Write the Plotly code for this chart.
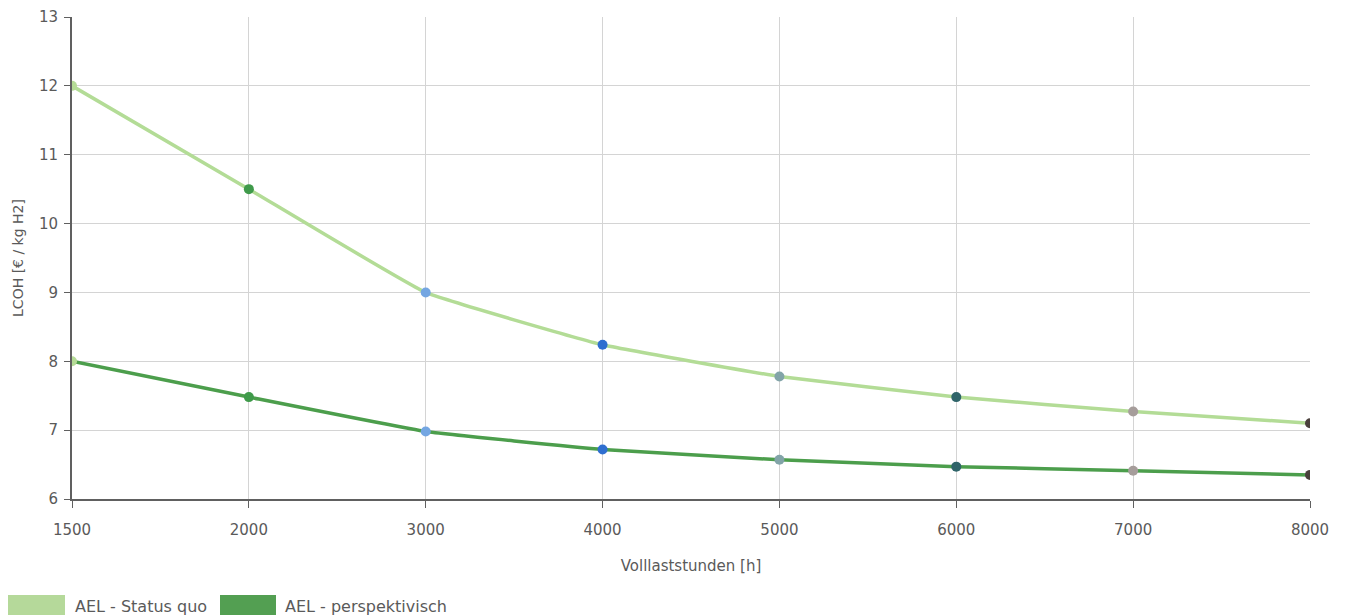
import plotly.graph_objects as go

hours = ["1500", "2000", "3000", "4000", "5000", "6000", "7000", "8000"]
status_quo = [12.0, 10.5, 9.0, 8.24, 7.78, 7.48, 7.27, 7.10]
perspektivisch = [8.0, 7.48, 6.98, 6.72, 6.57, 6.47, 6.41, 6.35]
point_colors = ["#b5db96", "#3f9a4a", "#74a6e2", "#2f6fd0", "#82a4a8", "#2f6469", "#a69d9b", "#4a403c"]

series_names = ["AEL - Status quo", "AEL - perspektivisch"]
series_colors = ["#b3dc96", "#4c9e4c"]
legend_colors = ["#b5d99a", "#539f52"]

FONT = "DejaVu Sans"
GRAY = "#5a5a5a"

W, H = 1347, 615
ML, MR, MT, MB = 64, 45, 9, 124

fig = go.Figure()
for name, vals, col in zip(series_names, [status_quo, perspektivisch], series_colors):
    fig.add_trace(go.Scatter(
        x=hours, y=vals, name=name, mode="lines+markers",
        line=dict(color=col, width=3.5, shape="spline", smoothing=0.3),
        marker=dict(color=point_colors, size=10),
        showlegend=False, cliponaxis=True,
    ))

fig.update_layout(
    width=W, height=H,
    margin=dict(l=ML, r=MR, t=MT, b=MB, autoexpand=False),
    paper_bgcolor="white", plot_bgcolor="white",
    font=dict(family=FONT, size=15, color=GRAY),
    xaxis=dict(
        type="category", range=[0, 7], automargin=False,
        showgrid=True, gridcolor="#d4d4d4", gridwidth=1,
        showline=True, linecolor="#606060", linewidth=2,
        ticks="outside", ticklen=7, tickcolor="#606060",
        ticklabelstandoff=9,
        title=dict(text="Volllaststunden [h]", standoff=22, font=dict(size=15, color=GRAY)),
        tickfont=dict(size=15, color=GRAY),
        zeroline=False,
    ),
    yaxis=dict(
        range=[6, 13], dtick=1, automargin=False,
        showgrid=True, gridcolor="#d4d4d4", gridwidth=1,
        showline=True, linecolor="#606060", linewidth=2,
        ticks="outside", ticklen=6, tickcolor="#606060",
        ticklabelstandoff=3,
        title=dict(text="LCOH [€ / kg H2]", standoff=12, font=dict(size=14, color=GRAY)),
        tickfont=dict(size=15, color=GRAY),
        zeroline=False,
    ),
)

# custom legend (filled boxes + labels), positioned in figure pixels
plot_w = W - ML - MR
plot_h = H - MT - MB
def px_x(px):
    return (px - ML) / plot_w
def px_y(py):
    return (H - MB - py) / plot_h

boxes = [(0, 57), (212, 268)]
text_x = [65, 275]
for (bx0, bx1), tx, name, col in zip(boxes, text_x, series_names, legend_colors):
    fig.add_shape(type="rect", xref="paper", yref="paper",
                  x0=px_x(bx0), x1=px_x(bx1),
                  y0=px_y(612), y1=px_y(587),
                  fillcolor=col, line=dict(width=0), layer="above")
    fig.add_annotation(xref="paper", yref="paper",
                       x=px_x(tx), y=px_y(598),
                       xanchor="left", yanchor="middle", showarrow=False,
                       text=name, font=dict(family=FONT, size=16, color=GRAY))

fig.write_html("out.html")
